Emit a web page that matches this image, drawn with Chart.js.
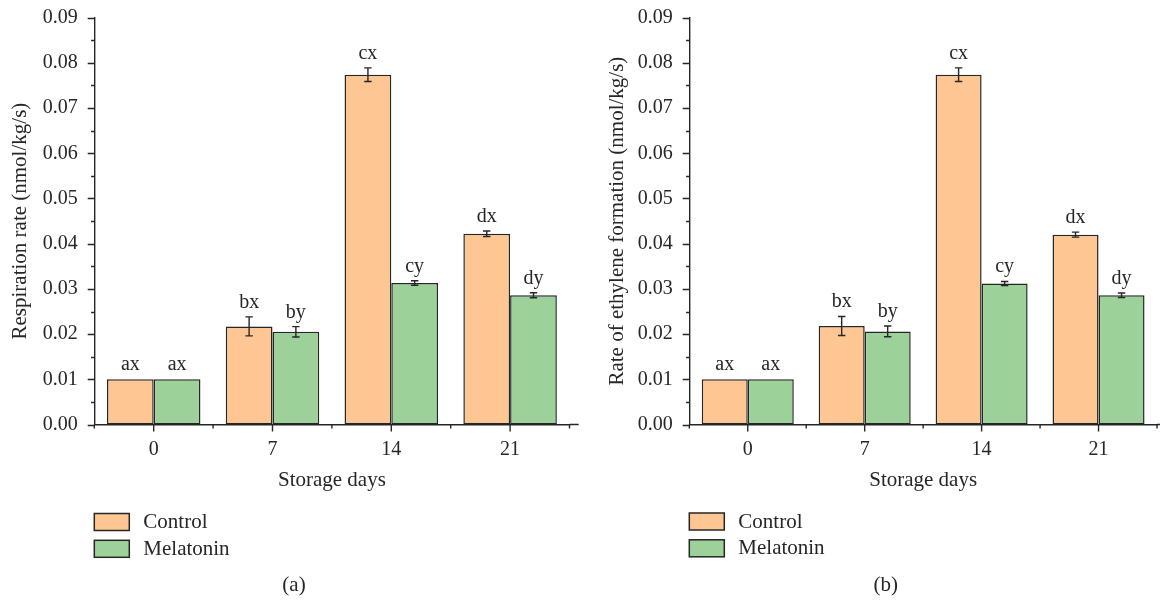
<!DOCTYPE html>
<html><head><meta charset="utf-8">
<script src="https://cdn.jsdelivr.net/npm/chart.js@4.4.1/dist/chart.umd.min.js"></script>
<style>
html,body{margin:0;padding:0;background:#fff;}
#wrap{position:relative;width:1161px;height:601px;overflow:hidden;background:#fff;}
.panel{position:absolute;top:0;height:601px;}
#pa{left:0;width:580px;}
#pb{left:580px;width:581px;}
</style></head><body>
<div id="wrap">
<div class="panel" id="pa"><canvas id="ca"></canvas></div>
<div class="panel" id="pb"><canvas id="cb"></canvas></div>
</div>
<script>
// ---- data ----
const storageDays = ['0', '7', '14', '21'];
const seriesNames = ['Control', 'Melatonin'];

const respControl      = [0.0100, 0.0217, 0.0774, 0.0422];
const respControlErr   = [0, 0.0021, 0.0015, 0.0006];
const respMelatonin    = [0.0100, 0.0205, 0.0313, 0.0286];
const respMelatoninErr = [0, 0.00115, 0.0005, 0.00055];
const respControlLetters   = ['ax', 'bx', 'cx', 'dx'];
const respMelatoninLetters = ['ax', 'by', 'cy', 'dy'];

const ethControl      = [0.0100, 0.0218, 0.0774, 0.0420];
const ethControlErr   = [0, 0.0021, 0.0015, 0.00055];
const ethMelatonin    = [0.0100, 0.0206, 0.0312, 0.0286];
const ethMelatoninErr = [0, 0.0012, 0.00045, 0.0005];
const ethControlLetters   = ['ax', 'bx', 'cx', 'dx'];
const ethMelatoninLetters = ['ax', 'by', 'cy', 'dy'];

const yAxisMax = 0.09;
const yAxisStep = 0.01;
const xTitle = 'Storage days';
const respTitle = 'Respiration rate (nmol/kg/s)';
const ethTitle = 'Rate of ethylene formation (nmol/kg/s)';
const panelLabels = ['(a)', '(b)'];

// ---- style ----
const FONT = "'Liberation Serif', 'Times New Roman', serif";
const INK = '#262626';
const COL_CONTROL = '#fec692';
const COL_MEL = '#9cd29a';

const extrasPlugin = {
  id: 'extras',
  afterDatasetsDraw(chart, args, o) {
    const ctx = chart.ctx;
    const y = chart.scales.y;
    ctx.save();
    ctx.strokeStyle = INK;
    ctx.lineWidth = 1.4;
    ctx.fillStyle = INK;
    ctx.font = '20px ' + FONT;
    ctx.textAlign = 'center';
    ctx.textBaseline = 'alphabetic';
    chart.data.datasets.forEach((ds, di) => {
      const meta = chart.getDatasetMeta(di);
      meta.data.forEach((bar, i) => {
        const v = ds.data[i], e = ds.errors[i];
        const cx = bar.x;
        const top = y.getPixelForValue(v + e), bot = y.getPixelForValue(v - e);
        if (e > 0) {
          ctx.beginPath();
          ctx.moveTo(cx, top); ctx.lineTo(cx, bot);
          ctx.moveTo(cx - 3.7, top); ctx.lineTo(cx + 3.7, top);
          ctx.moveTo(cx - 3.7, bot); ctx.lineTo(cx + 3.7, bot);
          ctx.stroke();
        }
        ctx.fillText(ds.letters[i], cx, top - 9);
      });
    });
    ctx.restore();
  },
  afterDraw(chart, args, o) {
    const ctx = chart.ctx;
    const {left, right, bottom} = chart.chartArea;
    const y = chart.scales.y, x = chart.scales.x;
    ctx.save();
    ctx.strokeStyle = INK;
    ctx.lineWidth = 1.4;
    ctx.beginPath();
    // axis extension
    ctx.moveTo(right, bottom); ctx.lineTo(right + o.ext, bottom);
    // y ticks
    for (let k = 0; k <= 9; k++) {
      const v = k * yAxisStep;
      const py = Math.round(y.getPixelForValue(v)) + 0.5;
      ctx.moveTo(left - 6.6, py); ctx.lineTo(left, py);
      if (k < 9) {
        const pm = Math.round(y.getPixelForValue(v + yAxisStep / 2)) + 0.5;
        ctx.moveTo(left - 3.2, pm); ctx.lineTo(left, pm);
      }
    }
    // x ticks
    const n = chart.data.labels.length;
    const cw = (right - left) / n;
    for (let i = 0; i < n; i++) {
      const px = x.getPixelForValue(i);
      ctx.moveTo(px, bottom); ctx.lineTo(px, bottom + 7);
    }
    for (let i = 0; i <= n; i++) {
      const px = left + i * cw;
      ctx.moveTo(px, bottom); ctx.lineTo(px, bottom + 4);
    }
    ctx.stroke();
    // legend
    ctx.font = '21px ' + FONT;
    ctx.textAlign = 'left';
    ctx.textBaseline = 'middle';
    chart.data.datasets.forEach((ds, di) => {
      const by = o.legendY + di * 26.8;
      ctx.fillStyle = ds.backgroundColor;
      ctx.fillRect(o.legendX, by, 35, 17);
      ctx.lineWidth = 1.5;
      ctx.strokeRect(o.legendX, by, 35, 17);
      ctx.fillStyle = INK;
      ctx.fillText(ds.label, o.legendX + 49, by + 9);
    });
    // panel label
    ctx.textAlign = 'center';
    ctx.fillText(o.panel, o.panelX, 585);
    ctx.restore();
  }
};

function makeChart(canvasId, ctrl, ctrlErr, ctrlLet, mel, melErr, melLet, yTitle, L) {
  return new Chart(document.getElementById(canvasId), {
    type: 'bar',
    data: {
      labels: storageDays,
      datasets: [
        { label: seriesNames[0], data: ctrl, errors: ctrlErr, letters: ctrlLet,
          backgroundColor: COL_CONTROL, borderColor: INK, borderWidth: 1.5, borderSkipped: false },
        { label: seriesNames[1], data: mel, errors: melErr, letters: melLet,
          backgroundColor: COL_MEL, borderColor: INK, borderWidth: 1.5, borderSkipped: false }
      ]
    },
    options: {
      responsive: true,
      maintainAspectRatio: false,
      animation: false,
      events: [],
      datasets: { bar: { categoryPercentage: 0.787, barPercentage: 1.0 } },
      layout: { padding: { top: 17.7, left: 0, right: L.padRight, bottom: 105 } },
      plugins: {
        legend: { display: false },
        tooltip: { enabled: false },
        extras: L
      },
      scales: {
        x: {
          grid: { display: false, drawTicks: false },
          border: { display: true, color: INK, width: 1.4 },
          ticks: { color: INK, font: { family: FONT, size: 20 }, padding: 13 },
          title: { display: true, text: xTitle, color: INK, font: { family: FONT, size: 21 }, padding: { top: 0, bottom: 2.5 } },
          afterFit(s) { s.height = 71.5; s.paddingLeft = 0; s.paddingRight = 0; }
        },
        y: {
          min: 0, max: yAxisMax,
          grid: { display: false, drawTicks: false },
          border: { display: true, color: INK, width: 1.4 },
          ticks: { stepSize: yAxisStep, color: INK, font: { family: FONT, size: 20 }, padding: 16.6,
                   callback: v => Number(v).toFixed(2) },
          title: { display: true, text: yTitle, color: INK, font: { family: FONT, size: 21 }, padding: { top: L.yTitlePad, bottom: 0 } },
          afterFit(s) { s.width = L.yW; s.paddingTop = 0; s.paddingBottom = 0; }
        }
      }
    },
    plugins: [extrasPlugin]
  });
}

makeChart('ca', respControl, respControlErr, respControlLetters, respMelatonin, respMelatoninErr, respMelatoninLetters, respTitle,
  { yW: 94.3, padRight: 10.5, ext: 9.2, legendX: 94.3, legendY: 513.5, panel: panelLabels[0], panelX: 294, yTitlePad: 7.4 });
makeChart('cb', ethControl, ethControlErr, ethControlLetters, ethMelatonin, ethMelatoninErr, ethMelatoninLetters, ethTitle,
  { yW: 109.3, padRight: 4, ext: 3, legendX: 109.3, legendY: 513, panel: panelLabels[1], panelX: 305.7, yTitlePad: 24.4 });
</script>
</body></html>
